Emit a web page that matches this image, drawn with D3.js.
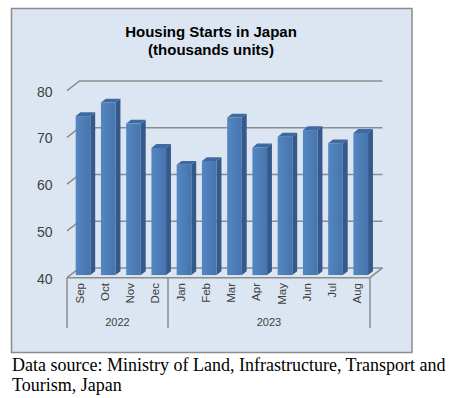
<!DOCTYPE html>
<html>
<head>
<meta charset="utf-8">
<script src="https://cdn.jsdelivr.net/npm/d3@7"></script>
<style>
  html, body { margin: 0; padding: 0; background: #fff; }
  svg { display: block; }
</style>
</head>
<body>
<div class="chart"></div>
<script>
// data
var months = ["Sep", "Oct", "Nov", "Dec", "Jan", "Feb", "Mar", "Apr", "May", "Jun", "Jul", "Aug"];
var years = ["2022", "2022", "2022", "2022", "2023", "2023", "2023", "2023", "2023", "2023", "2023", "2023"];
var starts = [74.0, 76.9, 72.4, 67.2, 63.6, 64.4, 73.7, 67.3, 69.6, 71.0, 68.2, 70.4];
var yTicks = [40, 50, 60, 70, 80];

var W = 449, H = 398;
var svg = d3.select(".chart").append("svg")
  .attr("width", W)
  .attr("height", H);

var defs = svg.append("defs");
var grad = defs.append("linearGradient").attr("id", "front");
grad.append("stop").attr("offset", "0%").attr("stop-color", "#5486c2");
grad.append("stop").attr("offset", "100%").attr("stop-color", "#4775ad");

// frame
svg.append("rect")
  .attr("x", 11.5).attr("y", 8.5)
  .attr("width", 400.5).attr("height", 344)
  .attr("fill", "#dce6f2")
  .attr("stroke", "#8c8c8c")
  .attr("stroke-width", 1.5);

// title
var title = svg.append("text")
  .attr("x", 211)
  .attr("text-anchor", "middle")
  .style("font-family", "Arial, 'Liberation Sans', sans-serif")
  .style("font-weight", "bold")
  .style("font-size", "15px")
  .attr("fill", "#000");
title.append("tspan").attr("x", 211).attr("y", 37).text("Housing Starts in Japan");
title.append("tspan").attr("x", 211).attr("y", 55).text("(thousands units)");

// scales (front plane) + depth offset
var x = d3.scaleBand().domain(d3.range(months.length)).range([67, 370]);
var y = d3.scaleLinear().domain([40, 80]).range([277.7, 90.7]);
var DX = 12.5, DY = 9.8;

var grid = svg.append("g");
yTicks.forEach(function (v) {
  var y0 = y(v);
  grid.append("path")
    .attr("d", "M" + x.range()[0] + "," + y0 + "L" + (x.range()[0] + DX) + "," + (y0 - DY) +
      "H" + (x.range()[1] + DX))
    .attr("fill", "none")
    .attr("stroke", "#8c8c8c")
    .attr("stroke-width", 1.5);
});
// floor front edge
grid.append("path")
  .attr("d", "M" + x.range()[0] + "," + y(40) + "H" + x.range()[1] +
    "L" + (x.range()[1] + DX) + "," + (y(40) - DY))
  .attr("fill", "none")
  .attr("stroke", "#8c8c8c")
  .attr("stroke-width", 1.5);

// y labels
svg.append("g").selectAll("text")
  .data(yTicks)
  .enter().append("text")
  .attr("x", 52.5)
  .attr("y", function (d) { return y(d) + 1; })
  .attr("dy", "0.35em")
  .attr("text-anchor", "end")
  .style("font-family", "Arial, 'Liberation Sans', sans-serif")
  .style("font-size", "14px")
  .attr("fill", "#404040")
  .text(function (d) { return d; });

// bars
var f0 = 0.27, f1 = 0.66;
var bw = x.bandwidth() * 0.58;
var bars = svg.append("g").selectAll("g")
  .data(starts)
  .enter().append("g");

function bx(i) { return x(i) + (x.bandwidth() - bw) / 2 + DX * f0; }
function by(v) { return y(v) - DY * f0; }
var dd = [DX * (f1 - f0), DY * (f1 - f0)];

// side
bars.append("path")
  .attr("d", function (d, i) {
    var l = bx(i) + bw, t = by(d), b = by(40);
    return "M" + l + "," + t + "L" + (l + dd[0]) + "," + (t - dd[1]) +
      "L" + (l + dd[0]) + "," + (b - dd[1]) + "L" + l + "," + b + "Z";
  })
  .attr("fill", "#34598a");
// top
bars.append("path")
  .attr("d", function (d, i) {
    var l = bx(i), t = by(d);
    return "M" + l + "," + t + "L" + (l + dd[0]) + "," + (t - dd[1]) +
      "H" + (l + bw + dd[0]) + "L" + (l + bw) + "," + t + "Z";
  })
  .attr("fill", "#3f6aa0");
// front
bars.append("rect")
  .attr("x", function (d, i) { return bx(i); })
  .attr("y", function (d) { return by(d); })
  .attr("width", bw)
  .attr("height", function (d) { return by(40) - by(d); })
  .attr("fill", "url(#front)");

// month labels
svg.append("g").selectAll("text")
  .data(months)
  .enter().append("text")
  .attr("transform", function (d, i) {
    return "translate(" + (x(i) + x.bandwidth() / 2 + 4) + "," + 283 + ") rotate(-90)";
  })
  .attr("text-anchor", "end")
  .style("font-family", "Arial, 'Liberation Sans', sans-serif")
  .style("font-size", "11.5px")
  .attr("fill", "#404040")
  .text(function (d) { return d; });

// year groups
var groups = d3.groups(d3.range(months.length), function (i) { return years[i]; });
var sepX = [x.range()[0]];
groups.forEach(function (g) { sepX.push(x(g[1][g[1].length - 1]) + x.bandwidth()); });
svg.append("g").selectAll("line")
  .data(sepX)
  .enter().append("line")
  .attr("x1", function (d) { return d; })
  .attr("x2", function (d) { return d; })
  .attr("y1", y(40))
  .attr("y2", 328)
  .attr("stroke", "#8c8c8c")
  .attr("stroke-width", 1.5);

svg.append("g").selectAll("text")
  .data(groups)
  .enter().append("text")
  .attr("x", function (g) {
    return (x(g[1][0]) + x(g[1][g[1].length - 1]) + x.bandwidth()) / 2;
  })
  .attr("y", 326)
  .attr("text-anchor", "middle")
  .style("font-family", "Arial, 'Liberation Sans', sans-serif")
  .style("font-size", "11px")
  .attr("fill", "#404040")
  .text(function (g) { return g[0]; });

// source note
var note = svg.append("text")
  .style("font-family", "'Times New Roman', 'Liberation Serif', serif")
  .style("font-size", "18px")
  .attr("fill", "#000");
note.append("tspan").attr("x", 12).attr("y", 370.5)
  .text("Data source: Ministry of Land, Infrastructure, Transport and");
note.append("tspan").attr("x", 12).attr("y", 390.5)
  .text("Tourism, Japan");
</script>
</body>
</html>
